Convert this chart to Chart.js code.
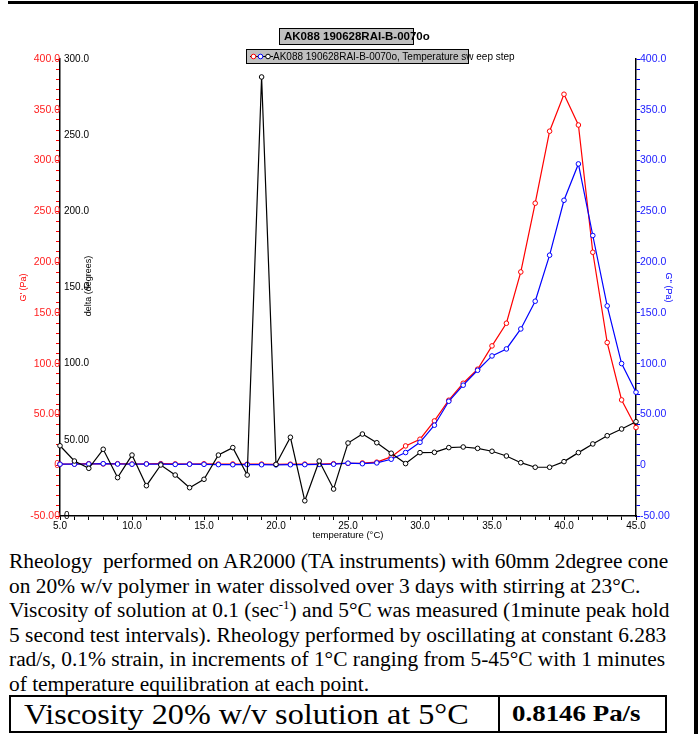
<!DOCTYPE html>
<html>
<head>
<meta charset="utf-8">
<script src="https://cdn.jsdelivr.net/npm/chart.js@4/dist/chart.umd.min.js"></script>
<style>
body { margin: 0; width: 699px; height: 734px; position: relative; overflow: hidden; background: #fff; font-family: "Liberation Sans", Arial, sans-serif; }
#topline { position: absolute; left: 8px; top: 1px; width: 690px; height: 3px; background: #000; }
#rightline { position: absolute; left: 694px; top: 1px; width: 4px; height: 734px; background: #000; }
#chart { position: absolute; left: 0; top: 0; }
#title { position: absolute; left: 279px; top: 28px; width: 129px; height: 15px; background: #c0c0c0; border: 1px solid #000;
  font: bold 11.5px "Liberation Sans", Arial, sans-serif; line-height: 15px; white-space: nowrap; padding-left: 4px; box-sizing: content-box; }
#legend { position: absolute; left: 246px; top: 49px; width: 221px; height: 13px; background: #c0c0c0; border: 1px solid #000;
  font: 10px "Liberation Sans", Arial, sans-serif; line-height: 13px; white-space: nowrap; }
#legend svg { position: absolute; left: 0; top: 0; }
#legend span { position: absolute; left: 26px; top: 0; }
#notes { position: absolute; left: 9px; top: 549px; font: 20px "Liberation Serif", "Times New Roman", serif; line-height: 24.6px;
  white-space: pre; transform: scaleX(1.07); transform-origin: 0 0; }
#notes sup { font-size: 12px; line-height: 0; }
#visc { position: absolute; left: 9px; top: 695px; width: 658px; height: 38px; border: 2px solid #000; box-sizing: border-box; }
#visc .c1 { position: absolute; left: 0; top: 0; width: 489px; height: 34px; border-right: 2px solid #000; box-sizing: border-box; }
#visc .c1 span { position: absolute; left: 13px; top: 0; font: 29px "Liberation Serif", "Times New Roman", serif; line-height: 34px;
  white-space: nowrap; transform: scaleX(1.11); transform-origin: 0 0; }
#visc .c2 { position: absolute; left: 491px; top: 0; width: 163px; height: 34px; }
#visc .c2 span { position: absolute; left: 10px; top: 0; font: bold 23px "Liberation Serif", "Times New Roman", serif; line-height: 34px;
  white-space: nowrap; transform: scaleX(1.17); transform-origin: 0 0; }
</style>
</head>
<body>
<div id="topline"></div>
<div id="rightline"></div>
<canvas id="chart" width="699" height="548"></canvas>
<div id="title">AK088 190628RAI-B-0070o</div>
<div id="legend">
  <svg width="30" height="13">
    <line x1="3" y1="6.5" x2="26" y2="6.5" stroke="#000" stroke-width="1"/>
    <circle cx="6.5" cy="6.5" r="2.3" fill="#fff" stroke="#f00" stroke-width="1"/>
    <circle cx="13.5" cy="6.5" r="2.3" fill="#fff" stroke="#00f" stroke-width="1"/>
    <circle cx="21" cy="6.5" r="2.3" fill="#fff" stroke="#000" stroke-width="1"/>
  </svg>
  <span>AK088 190628RAI-B-0070o, Temperature sw eep step</span>
</div>
<div id="notes">Rheology  performed on AR2000 (TA instruments) with 60mm 2degree cone
on 20% w/v polymer in water dissolved over 3 days with stirring at 23°C.
Viscosity of solution at 0.1 (sec<sup>-1</sup>) and 5°C was measured (1minute peak hold
5 second test intervals). Rheology performed by oscillating at constant 6.283
rad/s, 0.1% strain, in increments of 1°C ranging from 5-45°C with 1 minutes
of temperature equilibration at each point.</div>
<div id="visc">
  <div class="c1"><span>Viscosity 20% w/v solution at 5°C</span></div>
  <div class="c2"><span>0.8146 Pa/s</span></div>
</div>

<script>
// temperature steps (°C)
const temps = [5, 6, 7, 8, 9, 10, 11, 12, 13, 14, 15, 16, 17, 18, 19, 20, 21, 22, 23, 24, 25,
               26, 27, 28, 29, 30, 31, 32, 33, 34, 35, 36, 37, 38, 39, 40, 41, 42, 43, 44, 45];

// G' (Pa) - red, left axis
const gPrime = [1.0, 1.2, 1.5, 1.3, 1.5, 1.2, 1.4, 1.5, 1.3, 1.2, 1.4, 1.1, 1.2, 1.0, 1.1, 0.8, 1.0, 1.1, 1.2, 1.5, 1.8,
                2.2, 3.0, 8.2, 19.0, 25.6, 43.6, 64.0, 80.7, 94.5, 117.5, 139.8, 190.3, 258.0, 328.9, 365.3,
                335.0, 209.7, 120.8, 64.3, 37.1];

// G'' (Pa) - blue, right axis
const gDouble = [1.0, 1.0, 1.2, 1.5, 1.2, 1.0, 1.2, 1.0, 0.8, 1.0, 0.9, 0.6, 0.5, 0.6, 0.5, 0.3, 0.5, 0.6, 0.8, 1.0, 2.0,
                 1.5, 2.3, 5.9, 12.5, 22.6, 39.4, 63.0, 78.8, 93.5, 107.6, 114.5, 134.2, 161.5, 206.8, 260.9,
                 296.7, 226.2, 156.9, 100.1, 71.9];

// delta (degrees) - black, inner left axis
const delta = [46.1, 36.1, 31.3, 43.8, 25.2, 40.0, 19.9, 33.5, 26.9, 18.6, 24.1, 40.0, 44.9, 26.9, 288.2, 33.9, 51.7, 10.0, 36.1, 17.7, 47.9,
               53.8, 48.1, 41.2, 34.4, 41.6, 41.8, 44.9, 45.3, 44.4, 42.5, 39.4, 35.0, 32.0, 32.0, 35.7,
               41.6, 47.3, 52.7, 57.1, 61.9];

// tick labels
const xTicks = [5, 10, 15, 20, 25, 30, 35, 40, 45];
const xTickLabels = ['5.0', '10.0', '15.0', '20.0', '25.0', '30.0', '35.0', '40.0', '45.0'];
const gTicks = [-50, 0, 50, 100, 150, 200, 250, 300, 350, 400];
const gTickLabels = ['-50.00', '0', '50.00', '100.0', '150.0', '200.0', '250.0', '300.0', '350.0', '400.0'];
const deltaTicks = [0, 50, 100, 150, 200, 250, 300];
const deltaTickLabels = ['0', '50.00', '100.0', '150.0', '200.0', '250.0', '300.0'];

function pickLabel(values, labels) {
    return function (v) {
        const i = values.indexOf(Math.round(v));
        return i >= 0 ? labels[i] : '';
    };
}

function toPoints(series) {
    return temps.map((t, i) => ({ x: t, y: series[i] }));
}

const FONT = 'Liberation Sans';
const PLOT_LEFT = 60, PLOT_RIGHT = 636, PLOT_BOTTOM = 516, CANVAS_W = 699, CANVAS_H = 548;

// "delta (degrees)" title sits inside the plot next to its mirrored axis
const deltaTitle = {
    id: 'deltaTitle',
    afterDraw(chart) {
        const ctx = chart.ctx;
        ctx.save();
        ctx.translate(89, 286);
        ctx.rotate(-Math.PI / 2);
        ctx.font = '9px "' + FONT + '"';
        ctx.fillStyle = '#000';
        ctx.textAlign = 'center';
        ctx.textBaseline = 'middle';
        ctx.fillText('delta (degrees)', 0, 0);
        ctx.restore();
    }
};

function lineSet(label, series, color, axis) {
    return {
        label: label,
        data: toPoints(series),
        yAxisID: axis,
        borderColor: color,
        borderWidth: 1.2,
        pointRadius: 2.3,
        pointBorderWidth: 1,
        pointBorderColor: color,
        pointBackgroundColor: '#fff',
        tension: 0,
        clip: false
    };
}

new Chart(document.getElementById('chart'), {
    type: 'line',
    data: {
        // first dataset is painted on top
        datasets: [
            lineSet('delta', delta, '#000', 'yDelta'),
            lineSet("G''", gDouble, '#0000ff', 'yG2'),
            lineSet("G'", gPrime, '#ff0000', 'yG1')
        ]
    },
    options: {
        responsive: false,
        animation: false,
        layout: { padding: { top: 59, left: 0, right: 0, bottom: 0 } },
        plugins: { legend: { display: false }, tooltip: { enabled: false } },
        scales: {
            x: {
                type: 'linear',
                min: 5, max: 45,
                afterFit(s) { s.height = CANVAS_H - PLOT_BOTTOM; },
                ticks: { stepSize: 1, autoSkip: false, maxRotation: 0, padding: 0,
                         color: '#000', font: { family: FONT, size: 10 },
                         callback: pickLabel(xTicks, xTickLabels) },
                grid: { drawOnChartArea: false, tickLength: 4, color: '#000' },
                border: { color: '#000', width: 1.5 },
                title: { display: true, text: 'temperature (°C)', color: '#000',
                         font: { family: FONT, size: 9.5 }, padding: { top: 0, bottom: 6.5 } }
            },
            // inner left axis (declared first so it sits next to the plot)
            yDelta: {
                type: 'linear',
                position: 'left',
                min: 0, max: 300,
                afterFit(s) { s.width = 0; },
                ticks: { stepSize: 50, autoSkip: false, mirror: true, padding: 4, color: '#000',
                         font: { family: FONT, size: 10 },
                         callback: pickLabel(deltaTicks, deltaTickLabels) },
                grid: { drawOnChartArea: false, drawTicks: false },
                border: { color: '#000', width: 1.5 }
            },
            yG1: {
                type: 'linear',
                position: 'left',
                min: -50, max: 400,
                afterFit(s) { s.width = PLOT_LEFT; },
                ticks: { stepSize: 10, autoSkip: false, padding: -4, color: '#ff2020',
                         font: { family: FONT, size: 10.5 },
                         callback: pickLabel(gTicks, gTickLabels) },
                grid: { drawOnChartArea: false, tickLength: 4, color: '#ff0000' },
                border: { display: false },
                title: { display: true, text: "G' (Pa)", color: '#ff0000',
                         font: { family: FONT, size: 9 }, padding: { top: 18, bottom: 0 } }
            },
            yG2: {
                type: 'linear',
                position: 'right',
                min: -50, max: 400,
                afterFit(s) { s.width = CANVAS_W - PLOT_RIGHT; },
                ticks: { stepSize: 10, autoSkip: false, padding: 0, color: '#2020ff',
                         font: { family: FONT, size: 10.5 },
                         callback: pickLabel(gTicks, gTickLabels) },
                grid: { drawOnChartArea: false, tickLength: 4, color: '#0000ff' },
                border: { color: '#000', width: 1.5 },
                title: { display: true, text: "G'' (Pa)", color: '#0000ff',
                         font: { family: FONT, size: 9 }, padding: { top: 25.5, bottom: 0 } }
            }
        }
    },
    plugins: [deltaTitle]
});
</script>
</body>
</html>
